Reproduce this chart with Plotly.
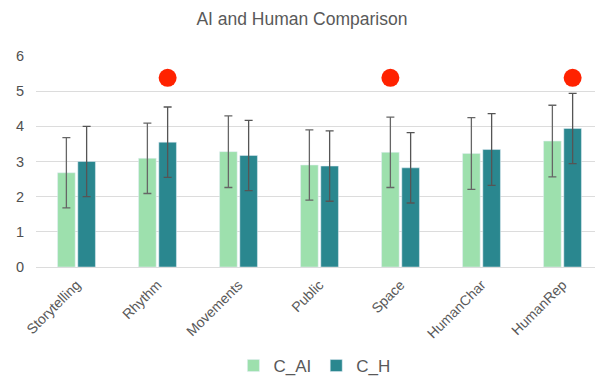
import plotly.graph_objects as go

categories = ["Storytelling", "Rhythm", "Movements", "Public", "Space", "HumanChar", "HumanRep"]
c_ai = [2.68, 3.09, 3.28, 2.90, 3.26, 3.23, 3.58]
c_ai_err = [1.0, 1.0, 1.02, 1.0, 1.0, 1.02, 1.02]
c_h = [3.00, 3.55, 3.17, 2.87, 2.82, 3.34, 3.94]
c_h_err = [1.0, 1.0, 1.0, 1.0, 1.0, 1.02, 1.0]
sig_ai_cats = ["Space"]
sig_h_cats = ["Rhythm", "HumanRep"]
sig_level = 5.38

AI_COL = "#9DE0AD"
H_COL = "#2A878F"
TXT = "#595959"
DOT = "#FF2200"

# the page body has an 8px margin, so the figure is drawn 8px smaller
W, H = 595, 371

fig = go.Figure()
fig.add_trace(go.Bar(
    name="C_AI", x=categories, y=c_ai, marker_color=AI_COL, offsetgroup="ai",
    error_y=dict(type="data", array=c_ai_err, color="#666666", thickness=1.3, width=4),
))
fig.add_trace(go.Bar(
    name="C_H", x=categories, y=c_h, marker_color=H_COL, offsetgroup="h",
    error_y=dict(type="data", array=c_h_err, color="#555555", thickness=1.3, width=4),
))
fig.add_trace(go.Scatter(
    x=sig_ai_cats, y=[sig_level] * len(sig_ai_cats), mode="markers", offsetgroup="ai",
    marker=dict(color=DOT, size=18), showlegend=False, hoverinfo="skip",
))
fig.add_trace(go.Scatter(
    x=sig_h_cats, y=[sig_level] * len(sig_h_cats), mode="markers", offsetgroup="h",
    marker=dict(color=DOT, size=18), showlegend=False, hoverinfo="skip",
))

fig.update_layout(
    width=W, height=H,
    margin=dict(l=28, r=0, t=48, b=112),
    paper_bgcolor="white", plot_bgcolor="white",
    barmode="group", scattermode="group",
    bargap=0.5, bargroupgap=0.13,
    font=dict(family="Liberation Sans, Arial, sans-serif", color=TXT),
    title=dict(text="AI and Human Comparison", x=0.494, xanchor="center", xref="container",
               y=1 - 11 / H, yanchor="middle", yref="container",
               font=dict(size=17.5, color=TXT)),
    legend=dict(orientation="h", x=0.515, xanchor="center", xref="container",
                y=13 / H, yanchor="middle", yref="container",
                font=dict(size=17, color=TXT), traceorder="normal", itemwidth=30,
                tracegroupgap=0),
    showlegend=True,
)
fig.update_yaxes(range=[0, 6], dtick=1, showgrid=True, gridcolor="#DCDCDC", gridwidth=1.2,
                 zeroline=True, zerolinecolor="#DCDCDC", zerolinewidth=1.2, automargin=False,
                 tickfont=dict(size=14.5, color="#505050"), ticklabelstandoff=11, fixedrange=True)
fig.update_xaxes(tickangle=-45, tickfont=dict(size=14, color=TXT), showline=False,
                 automargin=False, ticklabelstandoff=6, fixedrange=True)

fig.write_html("out.html")
